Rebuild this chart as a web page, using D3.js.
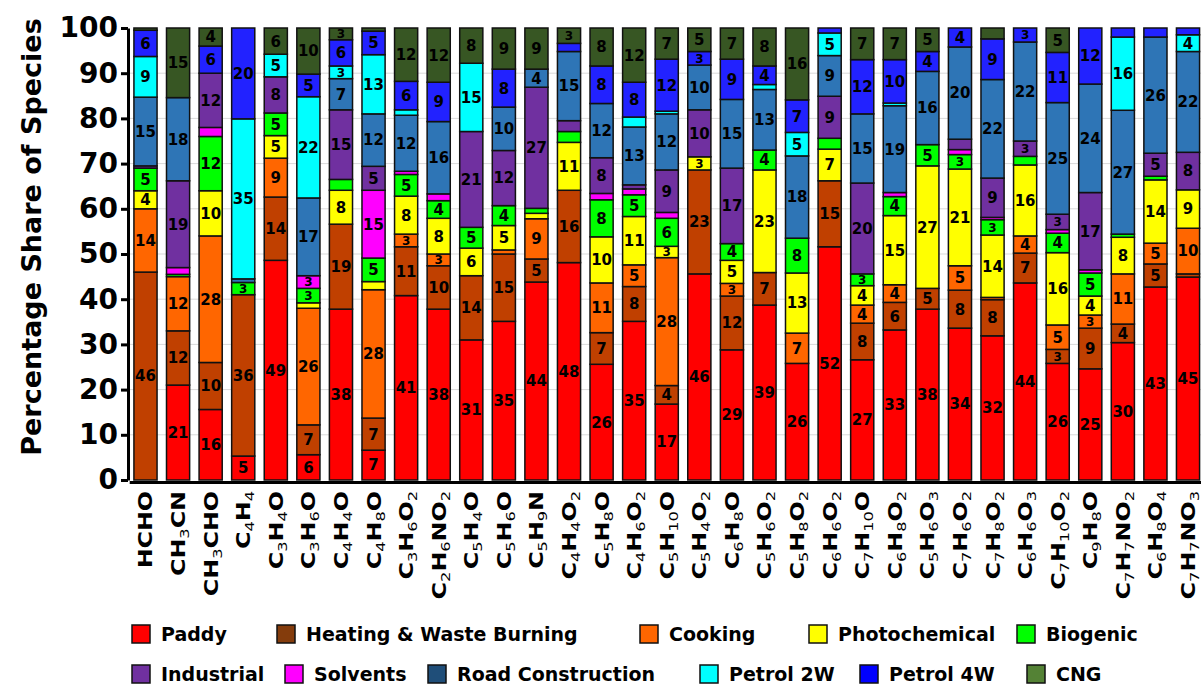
<!DOCTYPE html>
<html>
<head>
<meta charset="utf-8">
<script src="https://cdn.jsdelivr.net/npm/d3@7"></script>
<style>
  body { margin: 0; background: #fff; }
  text { font-family: "DejaVu Sans", sans-serif; font-weight: bold; }
</style>
</head>
<body>
<div id="chart"></div>
<script>
// Species on the x axis (digits are drawn as subscripts)
const species = ["HCHO", "CH3CN", "CH3CHO", "C4H4", "C3H4O", "C3H6O", "C4H4O", "C4H8O", "C3H6O2", "C2H6NO2",
    "C5H4O", "C5H6O", "C5H9N", "C4H4O2", "C5H8O", "C4H6O2", "C5H10O", "C5H4O2", "C6H8O", "C5H6O2", "C5H8O2",
    "C6H6O2", "C7H10O", "C6H8O2", "C5H6O3", "C7H6O2", "C7H8O2", "C6H6O3", "C7H10O2", "C9H8O", "C7H7NO2",
    "C6H8O4", "C7H7NO3"];

// Share of each source (%), stacked bottom to top
const paddy = [0, 21, 15.6, 5.3, 48.6, 5.6, 37.8, 6.6, 40.8, 37.8, 31, 35.1, 43.8, 48.1, 25.6, 35.1, 16.8, 45.6, 28.8, 38.7, 25.8, 51.6, 26.6, 33.2, 37.8, 33.6, 31.9, 43.6, 25.8, 24.6, 30.4, 42.7, 44.9];
const heating = [46, 12, 10.4, 35.7, 14, 6.6, 18.8, 7.1, 10.8, 9.6, 14.2, 14.9, 5.1, 16, 7, 7.7, 4.1, 23, 11.9, 7.2, 0, 14.6, 8.1, 6.1, 4.6, 8.4, 8, 6.6, 3.1, 9, 4.1, 5.1, 0.7];
const cooking = [14, 12, 28, 0, 8.6, 25.8, 0, 28.4, 2.8, 2.6, 0, 0.9, 8.9, 0, 11, 4.8, 28.3, 0, 2.8, 0, 6.7, 0, 4, 3.9, 0, 5.4, 0.5, 3.8, 5.4, 2.9, 11.1, 4.6, 10.1];
const photochemical = [4, 0, 10, 0, 5, 1.2, 7.5, 1.8, 8.4, 7.9, 6.1, 5.4, 1.2, 10.6, 10.2, 10.7, 2.5, 2.9, 5.1, 22.7, 13.3, 7, 4.3, 15.3, 27.1, 21.4, 13.8, 15.7, 16, 4.2, 8.1, 14, 8.5];
const biogenic = [5, 0.5, 12, 2.7, 5, 3.2, 2.4, 5.2, 4.8, 3.9, 4.6, 4.4, 1.1, 2.4, 8.2, 4.8, 6.2, 0, 3.7, 4.4, 7.7, 2.4, 2.6, 4.2, 4.7, 3.2, 3.4, 1.9, 4.3, 5.1, 0.7, 0.8, 0];
const solvents = [0, 1.5, 2, 0, 0, 2.8, 0, 15, 0.7, 1.5, 0, 0, 0, 0, 1.4, 1.3, 1.3, 0, 0, 0, 0, 0, 0, 0.9, 0, 1.1, 0.5, 0, 0.8, 0.7, 0, 0, 0];
const industrial = [0.5, 19.2, 12, 0, 8, 0, 15.4, 5.3, 0, 0, 21.2, 12.2, 26.8, 2.4, 7.9, 0.9, 9.4, 10.4, 16.7, 0, 0, 9.3, 20.1, 0, 0, 2.3, 8.7, 3.4, 3.4, 17.1, 0, 5.1, 8.3];
const roadConstruction = [15.2, 18.4, 0, 0.8, 0, 17.2, 6.9, 11.6, 12.4, 16, 0, 9.6, 4, 15.3, 12, 12.8, 12.4, 9.9, 15.2, 13.4, 18.2, 9, 15.3, 19.2, 16.2, 20.4, 21.8, 21.9, 24.7, 24, 27.4, 25.7, 22.3];
const petrol2W = [9, 0, 0, 35.4, 5, 22.4, 2.8, 13.1, 1.2, 0, 15.1, 0, 0, 0, 0, 2.2, 0.6, 0, 0, 1.1, 5.2, 5, 0, 0.6, 0, 0, 0, 0, 0, 0, 16.2, 0, 3.7];
const petrol4W = [5.8, 0, 6, 20.1, 0, 5, 5.8, 5.2, 6.3, 8.7, 0, 8.4, 0, 1.8, 8.3, 7.7, 11.5, 3, 8.9, 4.1, 7.2, 1.1, 12, 9.6, 4.4, 4.2, 9, 3.1, 11.1, 12.4, 2, 2, 1.5];
const cng = [0.5, 15.4, 4, 0, 5.8, 10.2, 2.6, 0.7, 11.8, 12, 7.8, 9.1, 9.1, 3.4, 8.4, 12, 6.9, 5.2, 6.9, 8.4, 15.9, 0, 7, 7, 5.2, 0, 2.4, 0, 5.4, 0, 0, 0, 0];

const yTicks = [0, 10, 20, 30, 40, 50, 60, 70, 80, 90, 100];

// stacking order (bottom to top)
const sources = [
    { key: "Paddy", values: paddy, color: "#ff0000" },
    { key: "Heating & Waste Burning", values: heating, color: "#c04000" },
    { key: "Cooking", values: cooking, color: "#ff6600" },
    { key: "Photochemical", values: photochemical, color: "#ffff00" },
    { key: "Biogenic", values: biogenic, color: "#00ff00" },
    { key: "Solvents", values: solvents, color: "#ff00ff" },
    { key: "Industrial", values: industrial, color: "#7030a0" },
    { key: "Road Construction", values: roadConstruction, color: "#2e75b6" },
    { key: "Petrol 2W", values: petrol2W, color: "#00ffff" },
    { key: "Petrol 4W", values: petrol4W, color: "#2222ff" },
    { key: "CNG", values: cng, color: "#375623" }
];

// legend order, positions and swatch colours
const legendItems = [
    { key: "Paddy", color: "#ff0000", x: 132, row: 0 },
    { key: "Heating & Waste Burning", color: "#843c0c", x: 277, row: 0 },
    { key: "Cooking", color: "#ff6600", x: 640, row: 0 },
    { key: "Photochemical", color: "#ffff00", x: 809, row: 0 },
    { key: "Biogenic", color: "#00ff00", x: 1017, row: 0 },
    { key: "Industrial", color: "#7030a0", x: 132, row: 1 },
    { key: "Solvents", color: "#ff00ff", x: 285, row: 1 },
    { key: "Road Construction", color: "#1f4e79", x: 428, row: 1 },
    { key: "Petrol 2W", color: "#00ffff", x: 700, row: 1 },
    { key: "Petrol 4W", color: "#0000ff", x: 860, row: 1 },
    { key: "CNG", color: "#548235", x: 1027, row: 1 }
];

const width = 1201, height = 685;

let svg = d3.select('#chart')
    .append('svg')
    .attr('width', width)
    .attr('height', height);

// build rows for d3.stack
let rows = species.map((s, i) => {
    let row = { species: s };
    sources.forEach(src => { row[src.key] = src.values[i]; });
    return row;
});
let stacked = d3.stack().keys(sources.map(s => s.key))(rows);

let xScale = d3.scaleBand()
    .domain(species)
    .range([129.2, 1204.3])
    .paddingInner(0.29)
    .paddingOuter(0.145);

let yScale = d3.scaleLinear()
    .domain([0, 100])
    .range([480, 28]);

let color = d3.scaleOrdinal()
    .domain(sources.map(s => s.key))
    .range(sources.map(s => s.color));

// gridlines
svg.append('g')
    .selectAll('line')
    .data(yTicks.filter(t => t > 0 && t < 100))
    .enter()
    .append('line')
    .attr('x1', 129)
    .attr('x2', width)
    .attr('y1', d => yScale(d))
    .attr('y2', d => yScale(d))
    .attr('stroke', '#d9d9d9')
    .attr('stroke-width', 1);

// stacked bars
let layer = svg.append('g')
    .selectAll('g')
    .data(stacked)
    .enter()
    .append('g')
    .attr('fill', d => color(d.key));

layer.selectAll('rect')
    .data(d => d.filter(p => p[1] - p[0] > 0))
    .enter()
    .append('rect')
    .attr('x', d => xScale(d.data.species))
    .attr('width', xScale.bandwidth())
    .attr('y', d => yScale(d[1]))
    .attr('height', d => yScale(d[0]) - yScale(d[1]))
    .attr('stroke', '#111')
    .attr('stroke-width', 1.5);

// segment values (smaller type on thin segments)
layer.selectAll('text')
    .data(d => d.filter(p => Math.round(p[1] - p[0]) >= 3))
    .enter()
    .append('text')
    .attr('x', d => xScale(d.data.species) + xScale.bandwidth() / 2)
    .attr('y', d => yScale((d[0] + d[1]) / 2))
    .attr('dy', '0.36em')
    .attr('text-anchor', 'middle')
    .style('font-size', d => (d[1] - d[0]) < 3.5 ? '12px' : '15px')
    .style('fill', '#000')
    .text(d => Math.round(d[1] - d[0]));

// y axis
let yAxis = svg.append('g')
    .attr('transform', 'translate(128, 0)')
    .call(d3.axisLeft(yScale).tickValues(yTicks).tickSize(7).tickSizeOuter(0).tickPadding(3));
yAxis.select('.domain').attr('stroke', '#000').attr('stroke-width', 3);
yAxis.selectAll('.tick line').attr('stroke', '#000').attr('stroke-width', 3);
yAxis.selectAll('.tick text')
    .style('font-family', '"DejaVu Sans", sans-serif')
    .style('font-weight', 'bold')
    .style('font-size', '28px')
    .attr('fill', '#000');

svg.append('text')
    .attr('transform', 'translate(41, 237) rotate(-90)')
    .attr('text-anchor', 'middle')
    .style('font-size', '27px')
    .text('Percentage Share of Species');

// x axis line
let xAxis = svg.append('g')
    .attr('transform', 'translate(0, 482)')
    .call(d3.axisBottom(xScale).tickSize(0).tickSizeOuter(0).tickFormat(''));
xAxis.select('.domain').attr('stroke', '#000').attr('stroke-width', 3);

// x labels with subscripts
function splitFormula(s) {
    return s.match(/[A-Z][a-z]*|\d+/g).map(t => ({ t: t, sub: /\d/.test(t) }));
}

let xLabels = svg.append('g')
    .selectAll('text')
    .data(species)
    .enter()
    .append('text')
    .attr('transform', d => `translate(${xScale(d) + xScale.bandwidth() / 2 + 7}, 491) rotate(-90) scale(1.25, 1)`)
    .attr('text-anchor', 'end')
    .style('font-size', '19px');

xLabels.each(function (d) {
    let el = d3.select(this);
    let shifted = false;
    splitFormula(d).forEach(part => {
        let ts = el.append('tspan').text(part.t);
        if (part.sub && !shifted) {
            ts.attr('dy', 4).style('font-size', '13px').style('font-weight', 'normal');
            shifted = true;
        } else if (!part.sub && shifted) {
            ts.attr('dy', -4);
            shifted = false;
        }
    });
});

// legend
let legend = svg.append('g')
    .selectAll('g')
    .data(legendItems)
    .enter()
    .append('g')
    .attr('transform', d => `translate(${d.x}, ${634 + d.row * 40})`);

legend.append('rect')
    .attr('x', 0)
    .attr('y', -9)
    .attr('width', 18)
    .attr('height', 18)
    .attr('fill', d => d.color)
    .attr('stroke', '#111')
    .attr('stroke-width', 1.5);

legend.append('text')
    .attr('x', 29)
    .attr('y', 0)
    .attr('dy', '0.36em')
    .style('font-size', '19px')
    .text(d => d.key);
</script>
</body>
</html>
